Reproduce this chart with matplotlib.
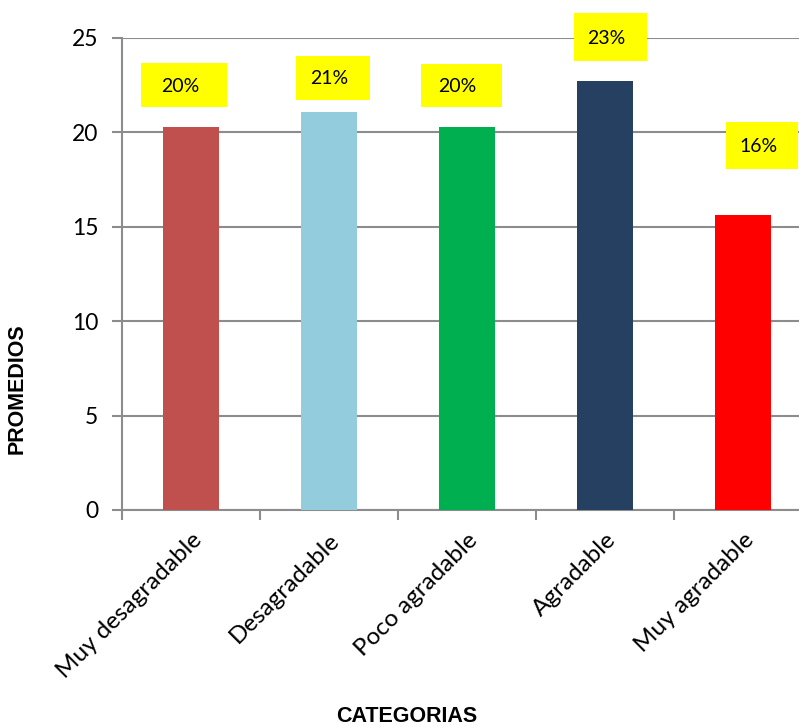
import matplotlib
matplotlib.use("Agg")
import matplotlib.pyplot as plt
from matplotlib.patches import Rectangle

# Datos del grafico
categorias = ["Muy desagradable", "Desagradable", "Poco agradable", "Agradable", "Muy agradable"]
promedios = [20.3, 21.1, 20.3, 22.7, 15.6]
etiquetas = ["20%", "21%", "20%", "23%", "16%"]
colores = ["#C0504D", "#93CDDD", "#00B050", "#254061", "#FF0000"]

# Desplazamiento de las cajas amarillas respecto a cada barra (x en categorias, y en unidades)
desp_x = [-0.05, 0.03, -0.04, 0.04, 0.14]
desp_y = [2.2, 1.8, 2.2, 2.35, 3.7]
ancho_caja = [0.62, 0.54, 0.58, 0.53, 0.52]
alto_caja = [2.33, 2.33, 2.28, 2.5, 2.45]

fig = plt.figure(figsize=(7.99, 7.28), dpi=100)
ax = fig.add_axes([122 / 799, 218 / 728, 690 / 799, 472 / 728])

x = range(len(categorias))
ax.bar(x, promedios, width=0.41, color=colores, zorder=3)

ax.set_xlim(-0.5, 4.5)
ax.set_ylim(0, 25)
ax.set_yticks([0, 5, 10, 15, 20, 25])
ax.yaxis.grid(True, color="#8C8C8C", linewidth=1.5, zorder=0)

for s in ["top", "right"]:
    ax.spines[s].set_visible(False)
for s in ["left", "bottom"]:
    ax.spines[s].set_color("#8C8C8C")
    ax.spines[s].set_linewidth(1.5)

ax.tick_params(axis="y", direction="out", length=7, width=1.5, color="#8C8C8C",
               labelsize=16.5, pad=10)
for t in ax.get_yticklabels():
    t.set_fontfamily("Lato")

# etiquetas de categorias en los centros, marcas en los limites
ax.set_xticks(list(x))
ax.set_xticklabels(categorias, rotation=45, ha="right", va="top",
                   rotation_mode="anchor", fontsize=17.5, fontfamily="Lato")
ax.tick_params(axis="x", which="major", length=0, pad=14)
ax.set_xticks([i - 0.5 for i in range(len(categorias))], minor=True)
ax.tick_params(axis="x", which="minor", direction="out", length=7, width=1.5, color="#8C8C8C")

# cajas con el porcentaje
for i, (v, lab) in enumerate(zip(promedios, etiquetas)):
    cx = i + desp_x[i]
    cy = v + desp_y[i]
    ax.add_patch(Rectangle((cx - ancho_caja[i] / 2, cy - alto_caja[i] / 2),
                           ancho_caja[i], alto_caja[i], facecolor="#FFFF00",
                           edgecolor="none", clip_on=False, zorder=4))
    ax.text(cx - 0.03, cy - 0.05, lab, ha="center", va="center", fontsize=14,
            fontfamily="Lato", zorder=5, clip_on=False)

fig.text(17.5 / 799, 1 - 389 / 728, "PROMEDIOS", rotation=90, ha="center", va="center",
         fontsize=15.5, fontweight="bold", fontfamily="Liberation Sans")
fig.text(407 / 799, 1 - 716 / 728, "CATEGORIAS", ha="center", va="center",
         fontsize=15.5, fontweight="bold", fontfamily="Liberation Sans")

fig.savefig("out.png", dpi=100)
